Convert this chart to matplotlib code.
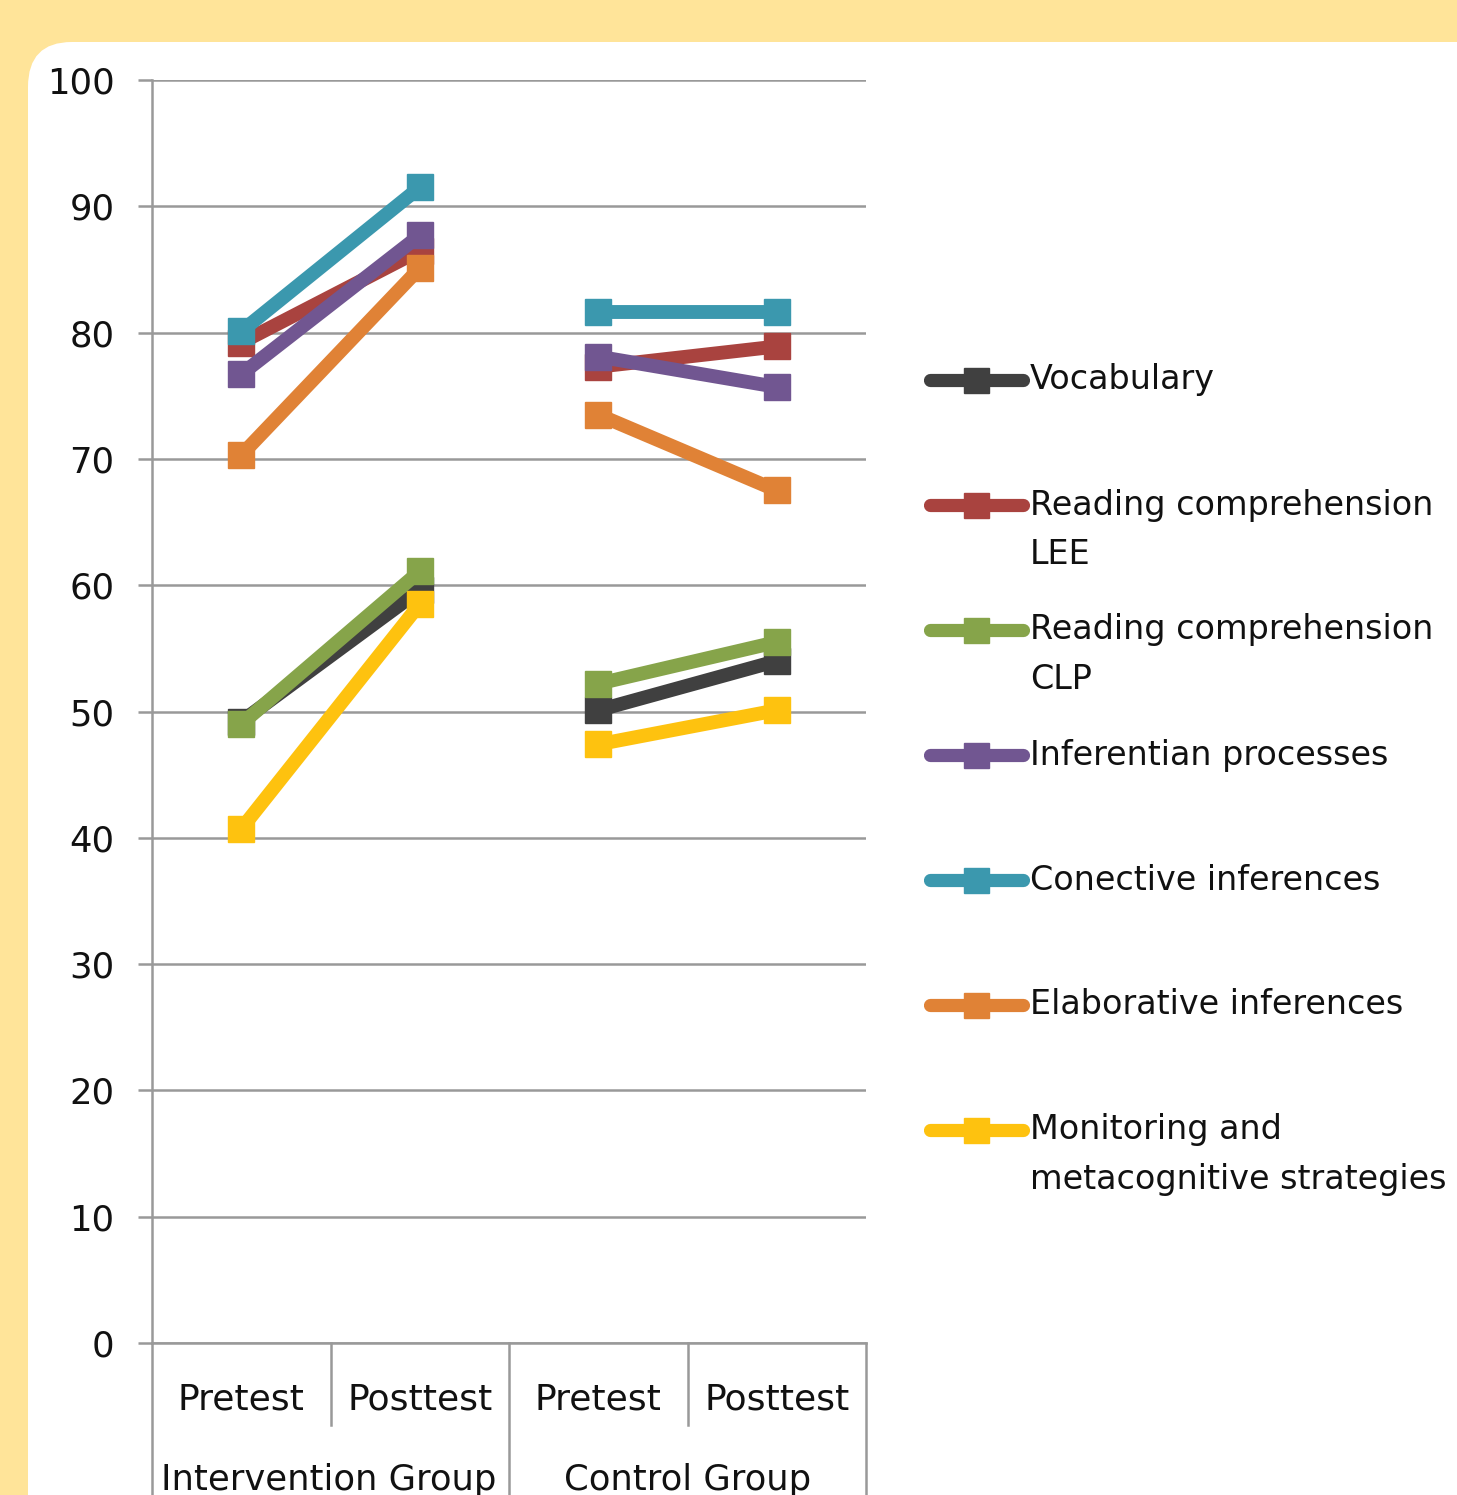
import matplotlib
matplotlib.use('Agg')
import matplotlib.pyplot as plt
from matplotlib.patches import FancyBboxPatch
import matplotlib.transforms as mtransforms

# data
categories = ['Pretest', 'Posttest', 'Pretest', 'Posttest']
groups = ['Intervention Group', 'Control Group']
series = ['Vocabulary', 'Reading comprehension\nLEE', 'Reading comprehension\nCLP',
          'Inferentian processes', 'Conective inferences', 'Elaborative inferences',
          'Monitoring and\nmetacognitive strategies']
vocabulary = [49.2, 59.6, 50.1, 54.0]
reading_lee = [79.2, 86.5, 77.3, 78.9]
reading_clp = [49.0, 61.1, 52.2, 55.5]
inferential = [76.7, 87.7, 78.1, 75.7]
conective = [80.1, 91.5, 81.6, 81.6]
elaborative = [70.3, 85.1, 73.5, 67.5]
monitoring = [40.7, 58.5, 47.4, 50.1]
values = [vocabulary, reading_lee, reading_clp, inferential, conective, elaborative, monitoring]
colors = ['#404040', '#A9433F', '#86A44A', '#715691', '#3B98AE', '#E08236', '#FEC20F']

W, H = 1457, 1495
fig = plt.figure(figsize=(W / 100, H / 100), dpi=100)
fig.patch.set_facecolor('#FFE499')

# white rounded panel
panel = FancyBboxPatch((28 / W, -0.2), 1.2, (H - 42) / H + 0.2,
                       boxstyle='round,pad=0,rounding_size=0.03',
                       transform=fig.transFigure, facecolor='white', edgecolor='none', zorder=-5)
fig.patches.append(panel)

ax = fig.add_axes([152 / W, 1 - 1343 / H, (866 - 152) / W, (1343 - 80) / H])
ax.set_facecolor('none')

x = list(range(len(categories)))
# each group is drawn as its own segment (no line between groups)
for vals, c in zip(values, colors):
    for g in range(len(groups)):
        sl = slice(2 * g, 2 * g + 2)
        ax.plot(x[sl], vals[sl], color=c, lw=10, marker='s', ms=19,
                solid_capstyle='butt', zorder=3)

ax.set_xlim(-0.5, 3.5)
ax.set_ylim(0, 100)
ax.set_yticks(range(0, 101, 10))
ax.grid(axis='y', color='#999999', lw=1.8)
ax.set_axisbelow(True)
for s in ['top', 'right', 'bottom']:
    ax.spines[s].set_visible(False)
ax.spines['left'].set_color('#999999')
ax.spines['left'].set_linewidth(1.8)
ax.tick_params(axis='y', length=10, width=1.8, color='#999999', pad=17, labelsize=25.5)
ax.set_yticklabels([str(v) for v in range(0, 101, 10)], color='#111111')
ax.set_xticks([])

# multi-level category axis
tr = mtransforms.blended_transform_factory(ax.transData, ax.transAxes)
ax.plot([-0.5, 3.5], [0, 0], color='#999999', lw=1.8, transform=tr, clip_on=False)
for xs, y0 in zip([-0.5, 0.5, 1.5, 2.5, 3.5], [-0.2, -0.065, -0.2, -0.065, -0.2]):
    ax.plot([xs, xs], [0, y0], color='#999999', lw=1.8, transform=tr, clip_on=False)
for i, lab in enumerate(categories):
    ax.text(i, -56 / 1263, lab, transform=tr, ha='center', va='center', fontsize=26, color='#111111')
ax.text(-0.45, -137 / 1263, groups[0], transform=tr, ha='left', va='center', fontsize=25.5, color='#111111')
ax.text(2.5, -137 / 1263, groups[1], transform=tr, ha='center', va='center', fontsize=25.5, color='#111111')

# legend
for i, (name, c) in enumerate(zip(series, colors)):
    yc = 1 - (380 + i * 125) / H
    ax.plot([930 / W, 1023 / W], [yc, yc], color=c, lw=9.5, solid_capstyle='round',
            transform=fig.transFigure, clip_on=False)
    ax.plot([976 / W], [yc], color=c, marker='s', ms=18, transform=fig.transFigure, clip_on=False)
    for j, line in enumerate(name.split('\n')):
        fig.text(1030 / W, yc - j * 50 / H, line, ha='left', va='center', fontsize=24, color='#111111')

fig.savefig('out.png', dpi=100, facecolor=fig.get_facecolor())
